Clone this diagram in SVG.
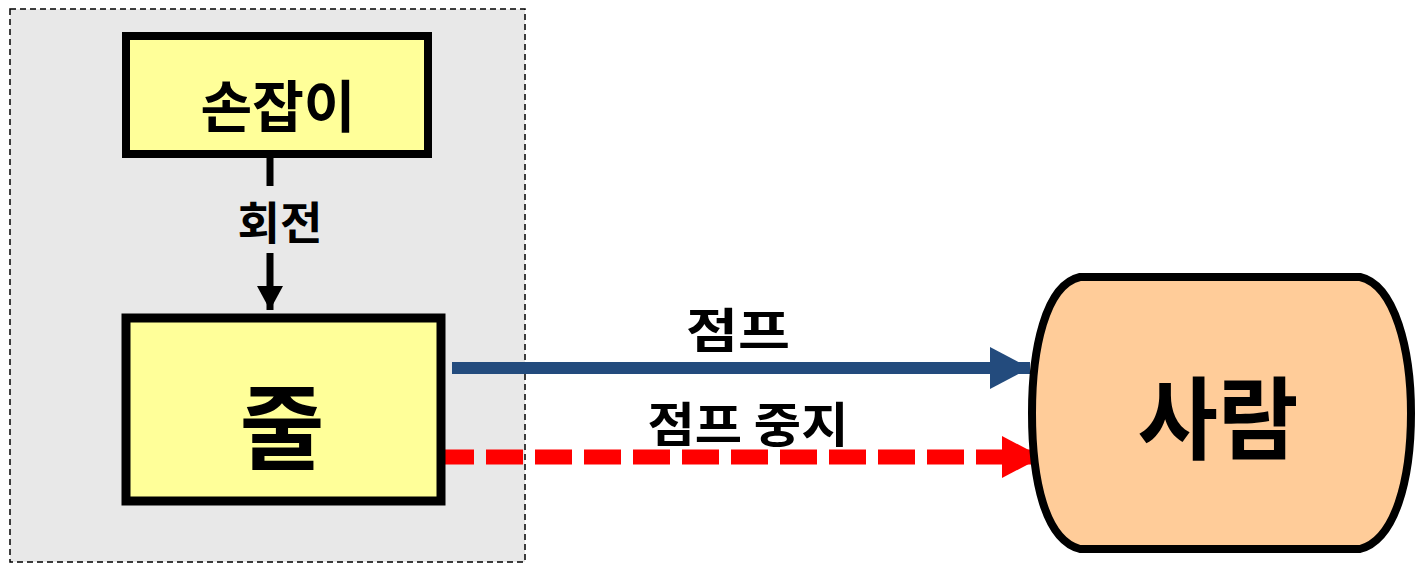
<svg xmlns="http://www.w3.org/2000/svg" width="1422" height="569" viewBox="0 0 1422 569">
<style>
text{font-family:"Noto Sans CJK KR","Noto Sans",sans-serif;font-weight:bold;fill:#000;text-anchor:middle;dominant-baseline:central}
.box{fill:#FFFF99;stroke:#000}
</style>
<defs>
<marker id="ahBlack" markerUnits="userSpaceOnUse" markerWidth="26" markerHeight="26" refX="24" refY="13" orient="auto"><path d="M0,0 L24,13 L0,26 Z" fill="#000"/></marker>
<marker id="ahBlue" markerUnits="userSpaceOnUse" markerWidth="42" markerHeight="42" refX="40" refY="21" orient="auto"><path d="M0,0 L40,21 L0,42 Z" fill="#234B7D"/></marker>
<marker id="ahRed" markerUnits="userSpaceOnUse" markerWidth="42" markerHeight="42" refX="40" refY="21" orient="auto"><path d="M0,0 L40,21 L0,42 Z" fill="#FF0000"/></marker>
</defs>
<rect width="1422" height="569" fill="#fff"/>
<g id="container">
<rect x="10" y="9" width="515" height="553" fill="#E8E8E8" stroke="#000" stroke-width="1.5" stroke-dasharray="6 4"/>
</g>
<g id="connectors">
<line x1="270" y1="158" x2="270" y2="186" stroke="#000" stroke-width="7"/>
<line x1="270" y1="253" x2="270" y2="310" stroke="#000" stroke-width="7" marker-end="url(#ahBlack)"/>
<text x="280" y="220" font-size="45" textLength="85" lengthAdjust="spacingAndGlyphs">회전</text>
<line x1="452" y1="368" x2="1030" y2="368" stroke="#234B7D" stroke-width="12" marker-end="url(#ahBlue)"/>
<text x="738" y="327" font-size="48" textLength="104" lengthAdjust="spacingAndGlyphs">점프</text>
<line x1="437" y1="457" x2="1042" y2="457" stroke="#FF0000" stroke-width="15" stroke-dasharray="37 12" marker-end="url(#ahRed)"/>
<text x="748" y="421" font-size="48" textLength="201" lengthAdjust="spacingAndGlyphs">점프 중지</text>
</g>
<g id="node-handle">
<rect class="box" x="126" y="36" width="302" height="118" stroke-width="8"/>
<text x="278" y="102" font-size="56" textLength="155" lengthAdjust="spacingAndGlyphs">손잡이</text>
</g>
<g id="node-rope">
<rect class="box" x="126" y="318" width="315" height="183" stroke-width="9"/>
<text x="282" y="421" font-size="92">줄</text>
</g>
<g id="node-person">
<path d="M1080,277 L1360,277 C1395,285 1411,350 1411,413 C1411,480 1395,540 1360,549 L1080,549 C1045,540 1032,480 1032,413 C1032,350 1045,285 1080,277 Z" fill="#FFCC99" stroke="#000" stroke-width="8"/>
<text x="1218" y="413" font-size="90" textLength="161" lengthAdjust="spacingAndGlyphs">사람</text>
</g>
</svg>
